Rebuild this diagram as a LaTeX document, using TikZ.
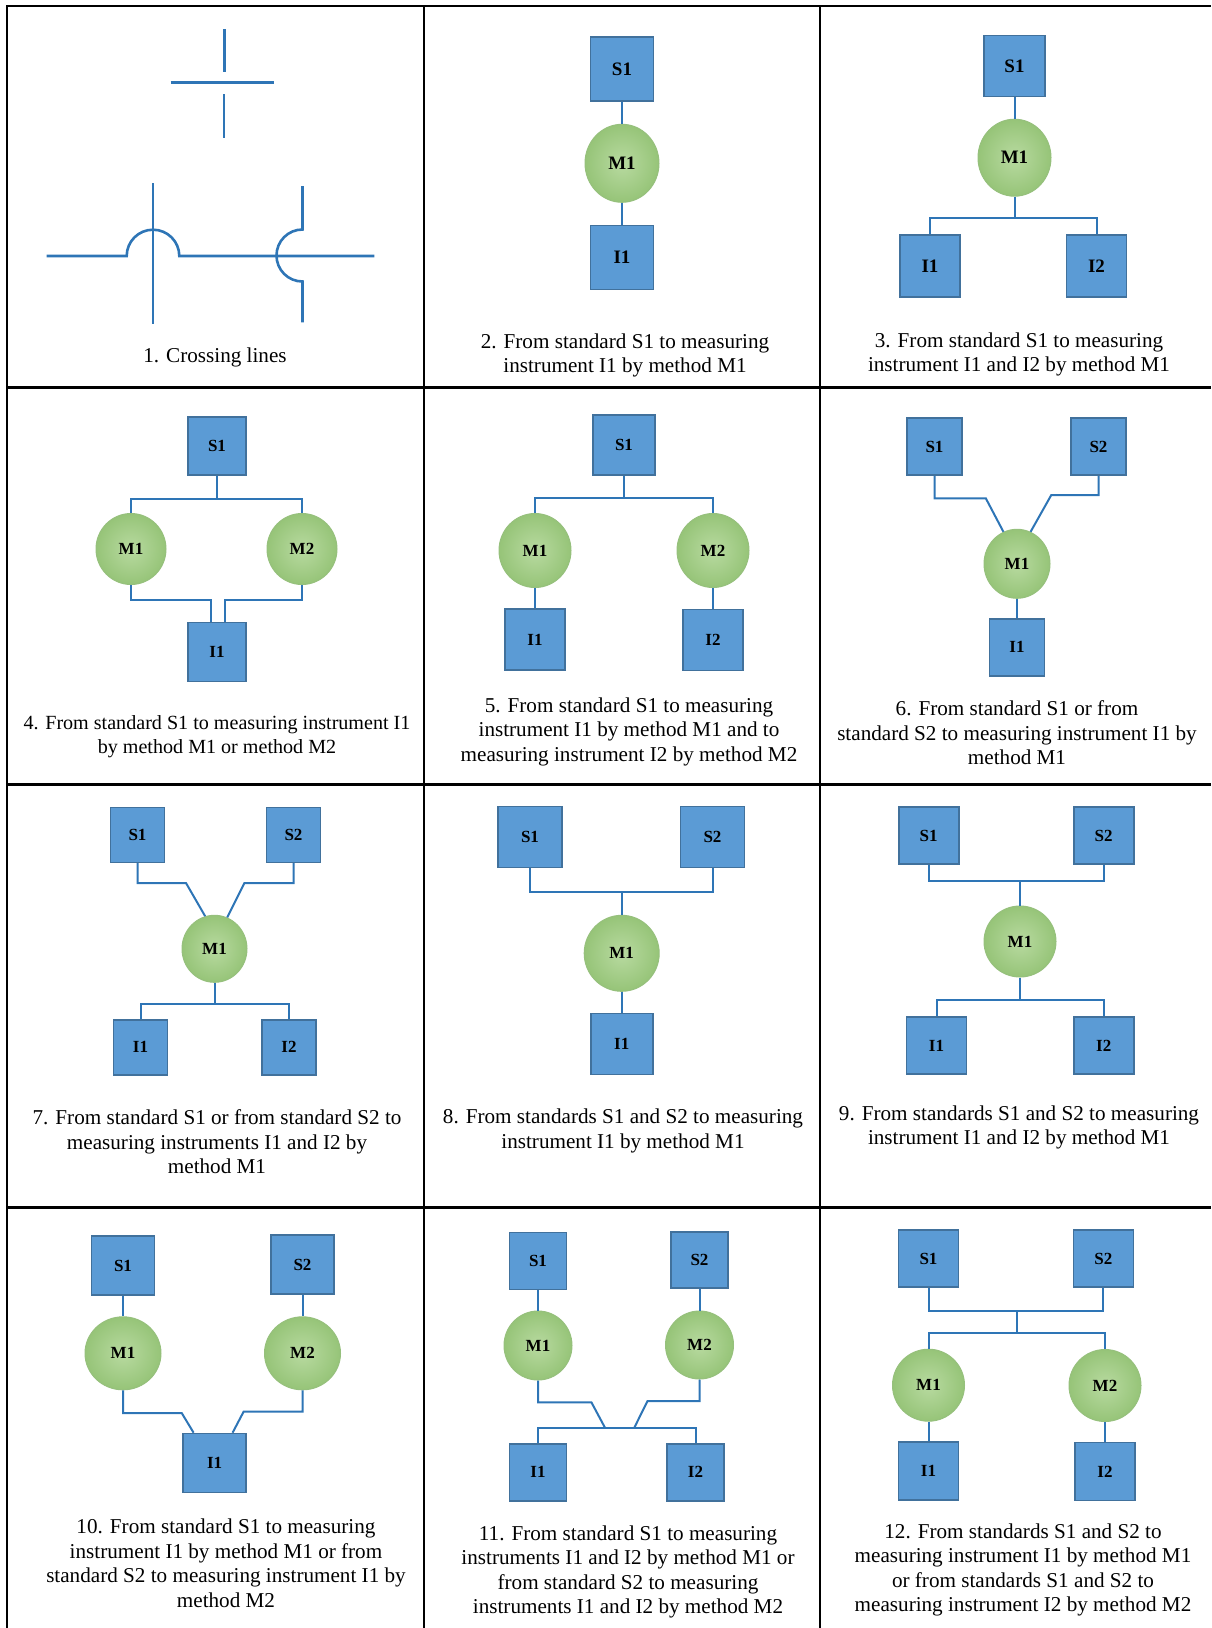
\documentclass[tikz,border=0pt]{standalone}
\usepackage{fontspec}
\setmainfont{Liberation Serif}
\usepackage{tikz}
\usetikzlibrary{shapes.geometric,calc}

\definecolor{boxfill}{RGB}{91,155,213}
\definecolor{boxline}{RGB}{65,113,156}
\definecolor{ovin}{RGB}{184,218,160}
\definecolor{ovout}{RGB}{150,196,120}
\definecolor{ovline}{RGB}{150,192,125}
\definecolor{wirecol}{RGB}{46,117,182}
\newcommand{\lblfont}{\fontsize{17}{17}\selectfont\bfseries}
\newcommand{\biglbl}{\fontsize{19}{19}\selectfont\bfseries}
\newcommand{\capfont}{\fontsize{21.15}{24.5}\selectfont}
\newcommand{\narrowcap}{\fontsize{20.1}{23.5}\selectfont}

\begin{document}
\begin{tikzpicture}[x=1pt,y=-1pt]
  \tikzset{
  lbl/.style = {align=center, inner sep=0pt, text centered, font=\lblfont},
  sq/.style 2 args = {lbl, rectangle, fill=boxfill, draw=boxline,
    line width=1.6pt, minimum width=#1pt, minimum height=#2pt},% standard / instrument
  ov/.style 2 args = {lbl, ellipse, draw=ovline, line width=1pt,
    inner color=ovin, outer color=ovout, minimum width=#1pt, minimum height=#2pt},% method
  wire/.style = {draw=wirecol, line width=2pt},
  rule/.style = {draw=black, line width=2.2pt},% table lines
  capt/.style = {align=center, inner sep=0pt, font=\capfont}
}
\useasboundingbox (0,0) rectangle (1211,1628);

% table
\draw[rule] (7,6) -- (1211,6);
\draw[rule] (7,387.5) -- (1211,387.5);
\draw[rule] (7,784.5) -- (1211,784.5);
\draw[rule] (7,1207.5) -- (1211,1207.5);
\draw[rule] (7,5) -- (7,1628);
\draw[rule] (424,5) -- (424,1628);
\draw[rule] (820,5) -- (820,1628);

% 1
\draw[wire, line width=2.6pt] (170.7,82.3) -- (274,82.3);
\draw[wire, line width=2.6pt] (224.5,29.3) -- (224.5,72);
\draw[wire, line width=2.6pt] (224,94.3) -- (224,137.7);
\draw[wire, line width=2.6pt] (46.7,256) -- (126.7,256)
  arc[start angle=180, end angle=360, radius=26.3] -- (374.3,256);
\draw[wire, line width=2.6pt] (153,183) -- (153,324);
\draw[wire, line width=2.6pt] (302.5,186) -- (302.5,229.5)
  arc[start angle=270, end angle=90, radius=26] -- (302.5,322.3);
\node[capt] (c1) at (215,357.7) {1. Crossing lines};

% 2
\node[sq={63}{64}, font=\biglbl] (p2s1) at (622,69) {S1};
\node[ov={74}{78}, font=\biglbl] (p2m1) at (622,163.3) {M1};
\node[sq={63}{64}, font=\biglbl] (p2i1) at (622,257.5) {I1};
\draw[wire] (p2s1) -- (p2m1) -- (p2i1);
\node[capt] (c2) at (625,355.5) {2. From standard S1 to measuring\\instrument I1 by method M1};

% 3
\node[sq={61}{61}, font=\biglbl] (p3s1) at (1014.5,66) {S1};
\node[ov={73}{77}, font=\biglbl] (p3m1) at (1014.5,157.7) {M1};
\node[sq={60}{62}, font=\biglbl] (p3i1) at (930,266) {I1};
\node[sq={60}{62}, font=\biglbl] (p3i2) at (1096.5,266) {I2};
\coordinate (p3b) at (1014.5,218.3);
\draw[wire] (p3s1) -- (p3m1) -- (p3b);
\draw[wire] (p3i1) |- (p3b) -| (p3i2);
\node[capt] (c3) at (1019,354.5) {3. From standard S1 to measuring\\instrument I1 and I2 by method M1};

% 4
\node[sq={58}{58}] (p4s1) at (217,446) {S1};
\node[ov={70}{71}] (p4m1) at (131,549) {M1};
\node[ov={70}{71}] (p4m2) at (302,549) {M2};
\node[sq={58}{59}] (p4i1) at (217,652) {I1};
\coordinate (p4b) at (217,499);
\draw[wire] (p4s1) -- (p4b);
\draw[wire] (p4m1) |- (p4b) -| (p4m2);
\coordinate (p4l) at (210.5,600.3);
\coordinate (p4r) at (224.5,600.3);
\draw[wire] (p4m1) |- (p4l) -- (p4l |- p4i1.north);
\draw[wire] (p4m2) |- (p4r) -- (p4r |- p4i1.north);
\node[capt, font=\narrowcap] (c4) at (217,736.5) {4. From standard S1 to measuring instrument I1\\by method M1 or method M2};

% 5
\node[sq={62}{60}] (p5s1) at (624,445) {S1};
\node[ov={72}{74}] (p5m1) at (535,550.5) {M1};
\node[ov={72}{74}] (p5m2) at (713,550.5) {M2};
\node[sq={60}{61}] (p5i1) at (535,639.5) {I1};
\node[sq={60}{61}] (p5i2) at (713,640) {I2};
\coordinate (p5b) at (624,498.3);
\draw[wire] (p5s1) -- (p5b);
\draw[wire] (p5m1) |- (p5b) -| (p5m2);
\draw[wire] (p5m1) -- (p5i1);
\draw[wire] (p5m2) -- (p5i2);
\node[capt] (c5) at (629,731.5) {5. From standard S1 to measuring\\instrument I1 by method M1 and to\\measuring instrument I2 by method M2};

% 6
\node[sq={55}{57}] (p6s1) at (934.5,446.7) {S1};
\node[sq={55}{57}] (p6s2) at (1098.5,446.7) {S2};
\node[ov={66}{69}] (p6m1) at (1017,563.8) {M1};
\node[sq={55}{57}] (p6i1) at (1017,647.3) {I1};
\coordinate (p6l) at (985.8,498.3);
\coordinate (p6r) at (1051.3,495);
\draw[wire] (p6s1) |- (p6l) -- (p6m1.113);
\draw[wire] (p6s2) |- (p6r) -- (p6m1.67);
\draw[wire] (p6m1) -- (p6i1);
\node[capt] (c6) at (1017,732.8) {6. From standard S1 or from\\standard S2 to measuring instrument I1 by\\method M1};

% 7
\node[sq={54}{55}] (p7s1) at (137.5,834.8) {S1};
\node[sq={54}{55}] (p7s2) at (293.5,834.8) {S2};
\node[ov={65}{67}] (p7m1) at (214.5,948.8) {M1};
\node[sq={54}{55}] (p7i1) at (140.5,1047.2) {I1};
\node[sq={54}{55}] (p7i2) at (289,1047.2) {I2};
\coordinate (p7l) at (186,883);
\coordinate (p7r) at (244.4,883);
\draw[wire] (p7s1) |- (p7l) -- (p7m1.106);
\draw[wire] (p7s2) |- (p7r) -- (p7m1.68);
\coordinate (p7b) at (214.5,1003.7);
\draw[wire] (p7m1) -- (p7b);
\draw[wire] (p7i1) |- (p7b) -| (p7i2);
\node[capt] (c7) at (217,1142) {7. From standard S1 or from standard S2 to\\measuring instruments I1 and I2 by\\method M1};

% 8
\node[sq={64}{61}] (p8s1) at (530,836.8) {S1};
\node[sq={64}{61}] (p8s2) at (712.5,836.8) {S2};
\node[ov={75}{76}] (p8m1) at (621.7,953.3) {M1};
\node[sq={62}{61}] (p8i1) at (621.7,1044) {I1};
\coordinate (p8b) at (621.7,892);
\draw[wire] (p8s1) |- (p8b) -| (p8s2);
\draw[wire] (p8b) -- (p8m1) -- (p8i1);
\node[capt] (c8) at (623,1131) {8. From standards S1 and S2 to measuring\\instrument I1 by method M1};

% 9
\node[sq={60}{57}] (p9s1) at (928.7,835.7) {S1};
\node[sq={60}{57}] (p9s2) at (1103.7,835.7) {S2};
\node[ov={72}{71}] (p9m1) at (1020,941.5) {M1};
\node[sq={60}{57}] (p9i1) at (936.5,1045.5) {I1};
\node[sq={60}{57}] (p9i2) at (1103.7,1045.5) {I2};
\coordinate (p9t) at (1020,880.7);
\coordinate (p9b) at (1020,1000.3);
\draw[wire] (p9s1) |- (p9t) -| (p9s2);
\draw[wire] (p9t) -- (p9m1) -- (p9b);
\draw[wire] (p9i1) |- (p9b) -| (p9i2);
\node[capt] (c9) at (1019,1127.5) {9. From standards S1 and S2 to measuring\\instrument I1 and I2 by method M1};

% 10
\node[sq={63}{59}] (p10s1) at (123,1265.5) {S1};
\node[sq={63}{59}] (p10s2) at (302.5,1264.5) {S2};
\node[ov={76}{73}] (p10m1) at (123,1353.3) {M1};
\node[ov={76}{73}] (p10m2) at (302.5,1353.3) {M2};
\node[sq={63}{59}] (p10i1) at (214.6,1463) {I1};
\draw[wire] (p10s1) -- (p10m1);
\draw[wire] (p10s2) -- (p10m2);
\coordinate (p10l) at (181.7,1413);
\coordinate (p10r) at (243.6,1411.7);
\draw[wire] (p10m1) |- (p10l) -- ($(p10i1.north)+(-21,0)$);
\draw[wire] (p10m2) |- (p10r) -- ($(p10i1.north)+(18,0)$);
\node[capt] (c10) at (226,1563) {10. From standard S1 to measuring\\instrument I1 by method M1 or from\\standard S2 to measuring instrument I1 by\\method M2};

% 11
\node[sq={57}{57}] (p11s1) at (538,1261) {S1};
\node[ov={68}{69}] (p11m1) at (538,1345.5) {M1};
\node[sq={57}{56}] (p11s2) at (699.5,1259.7) {S2};
\node[ov={68}{68}] (p11m2) at (699.5,1345) {M2};
\node[sq={57}{57}] (p11i1) at (538,1472.2) {I1};
\node[sq={57}{57}] (p11i2) at (695.5,1472.2) {I2};
\draw[wire] (p11s1) -- (p11m1);
\draw[wire] (p11s2) -- (p11m2);
\coordinate (p11b) at (616,1427.7);
\draw[wire] (p11i1) |- (p11b) -| (p11i2);
\coordinate (p11l) at (591.4,1402.3);
\coordinate (p11r) at (647.5,1401);
\coordinate (p11bl) at (605,1427.7);
\coordinate (p11br) at (634.3,1427.7);
\draw[wire] (p11m1) |- (p11l) -- (p11bl);
\draw[wire] (p11m2) |- (p11r) -- (p11br);
\node[capt] (c11) at (628,1572) {11. From standard S1 to measuring\\instruments I1 and I2 by method M1 or\\from standard S2 to measuring\\instruments I1 and I2 by method M2};

% 12
\node[sq={60}{57}] (p12s1) at (928.5,1258.7) {S1};
\node[sq={60}{57}] (p12s2) at (1103.3,1258.7) {S2};
\node[ov={72}{72}] (p12m1) at (928.5,1385.2) {M1};
\node[ov={72}{72}] (p12m2) at (1105,1385.5) {M2};
\node[sq={60}{58}] (p12i1) at (928.5,1470.7) {I1};
\node[sq={60}{58}] (p12i2) at (1105,1471.5) {I2};
\coordinate (p12t) at (1017,1311);
\coordinate (p12b) at (1017,1332.7);
\draw[wire] (p12s1) |- (p12t) -| (p12s2);
\draw[wire] (p12t) -- (p12b);
\draw[wire] (p12m1) |- (p12b) -| (p12m2);
\draw[wire] (p12m1) -- (p12i1);
\draw[wire] (p12m2) -- (p12i2);
\node[capt] (c12) at (1023,1570) {12. From standards S1 and S2 to\\measuring instrument I1 by method M1\\or from standards S1 and S2 to\\measuring instrument I2 by method M2};
\end{tikzpicture}
\end{document}
